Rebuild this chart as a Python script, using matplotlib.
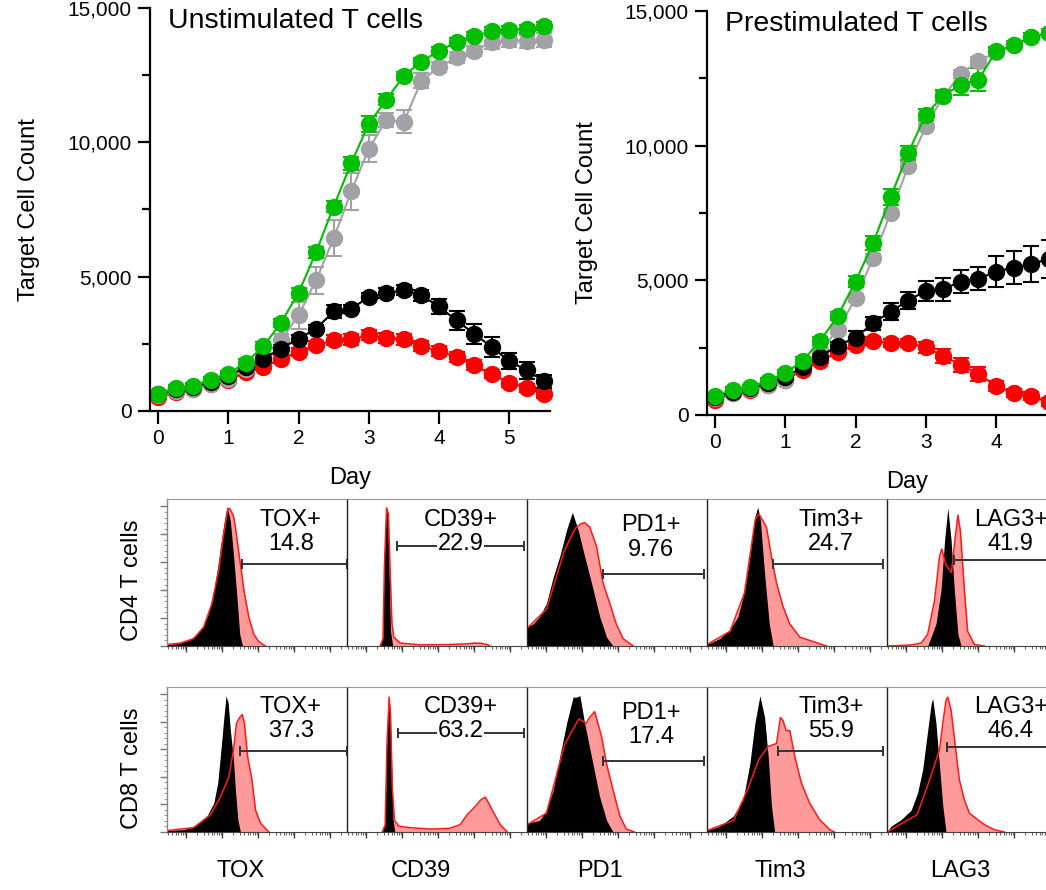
#!/usr/bin/env python3
'''Target cell count curves (top) and exhaustion marker histograms (bottom).
Writes out.png'''
import numpy as np
import matplotlib
matplotlib.use('Agg')
import matplotlib.pyplot as plt

plt.rcParams['font.family'] = ['Liberation Sans', 'DejaVu Sans']

# --- killing curves -------------------------------------------------------
days = [0, 0.25, 0.5, 0.75, 1, 1.25, 1.5, 1.75, 2, 2.25, 2.5, 2.75,
        3, 3.25, 3.5, 3.75, 4, 4.25, 4.5, 4.75, 5, 5.25, 5.5]
ytick_vals = [0, 5000, 10000, 15000]
ytick_labels = ['0', '5,000', '10,000', '15,000']

unstim_green = [645, 855, 930, 1165, 1390, 1800, 2405, 3285, 4390, 5910, 7610, 9220,
                10690, 11590, 12480, 13000, 13410, 13720, 13970, 14130, 14190, 14220, 14340]
unstim_grey = [580, 745, 830, 1015, 1200, 1575, 2070, 2630, 3560, 4860, 6430, 8170,
               9755, 10830, 10770, 12300, 12790, 13160, 13410, 13720, 13810, 13760, 13810]
unstim_black = [620, 805, 890, 1080, 1300, 1635, 1945, 2320, 2690, 3060, 3705, 3805,
                4240, 4390, 4490, 4300, 3890, 3370, 2875, 2380, 1860, 1510, 1100]
unstim_red = [520, 705, 830, 1015, 1140, 1450, 1635, 1945, 2195, 2440, 2630, 2665,
              2815, 2725, 2665, 2415, 2230, 2010, 1700, 1365, 1055, 855, 620]
unstim_green_err = [100, 100, 100, 100, 100, 120, 150, 150, 200, 200, 200, 250,
                    300, 200, 150, 150, 150, 150, 150, 150, 150, 150, 150]
unstim_grey_err = [100, 100, 100, 100, 100, 150, 200, 250, 500, 500, 670, 700,
                   500, 270, 430, 270, 190, 190, 190, 250, 250, 250, 250]
unstim_black_err = [100, 100, 100, 100, 100, 120, 150, 150, 150, 150, 250, 150,
                    150, 190, 190, 190, 270, 360, 370, 380, 310, 310, 250]
unstim_red_err = [100, 100, 100, 100, 100, 120, 120, 150, 150, 150, 190, 190,
                  190, 190, 190, 190, 190, 190, 190, 150, 150, 150, 150]

# prestimulated panel is cut off at the right edge, only days 0-4.75 show
prestim_days = days[:20]
prestim_green = [720, 930, 1030, 1275, 1550, 2020, 2760, 3690, 4955, 6380, 8090, 9725,
                 11150, 11855, 12265, 12450, 13500, 13725, 14020, 14180]
prestim_grey = [620, 830, 955, 1115, 1300, 1795, 2415, 3160, 4335, 5820, 7495, 9230,
                10715, 11830, 12670, 13130, 13475, 13725, 14020, 14180]
prestim_black = [655, 865, 990, 1175, 1400, 1770, 2170, 2575, 2875, 3405, 3840, 4250,
                 4610, 4670, 4955, 5055, 5325, 5475, 5600, 5795]
prestim_red = [555, 805, 930, 1115, 1300, 1670, 2005, 2330, 2600, 2760, 2665, 2665,
               2515, 2190, 1860, 1525, 1080, 805, 705, 470]
prestim_green_err = [100, 100, 100, 100, 120, 120, 150, 150, 200, 270, 310, 250,
                     200, 200, 370, 430, 150, 150, 150, 150]
prestim_grey_err = [100, 100, 100, 100, 100, 120, 150, 150, 150, 150, 150, 150,
                    150, 150, 150, 150, 150, 150, 150, 150]
prestim_black_err = [100, 100, 100, 100, 120, 120, 150, 150, 250, 250, 310, 310,
                     370, 430, 430, 430, 560, 620, 680, 720]
prestim_red_err = [100, 100, 100, 100, 100, 120, 150, 150, 150, 150, 150, 150,
                   200, 250, 250, 250, 200, 150, 150, 150]

GREEN = '#00BE00'
GREY = '#A2A2A6'
BLACK = '#000000'
RED = '#FF0000'

# --- histograms: (log decade, normalised count) -------------------------
markers = ['TOX', 'CD39', 'PD1', 'Tim3', 'LAG3']
cd4_pct = ['14.8', '22.9', '9.76', '24.7', '41.9']
cd8_pct = ['37.3', '63.2', '17.4', '55.9', '46.4']
cd4_gate_start = [1.55, 0.85, 1.57, 1.30, 1.31]
cd8_gate_start = [1.50, 0.88, 1.57, 1.44, 1.13]
gate_end = [4.46, 4.39, 4.37, 4.35, 4.60]

tox_cd4_iso = [(-0.54, 0.01), (-0.26, 0.016), (0.02, 0.034), (0.30, 0.08), (0.48, 0.14),
               (0.62, 0.23), (0.76, 0.38), (0.87, 0.54), (0.96, 0.70), (1.06, 0.86),
               (1.13, 0.95), (1.22, 0.85), (1.31, 0.61), (1.41, 0.31), (1.48, 0.08), (1.56, 0.0)]
tox_cd4_stain = [(-0.54, 0.01), (-0.17, 0.02), (0.2, 0.05), (0.48, 0.13), (0.71, 0.29),
                 (0.90, 0.52), (1.04, 0.77), (1.15, 0.93), (1.20, 0.935), (1.30, 0.89),
                 (1.36, 0.81), (1.43, 0.68), (1.52, 0.52), (1.61, 0.36), (1.73, 0.20),
                 (1.87, 0.08), (2.01, 0.03), (2.19, 0.0)]
cd39_cd4_iso = [(0.38, 0.0), (0.45, 0.05), (0.49, 0.55), (0.54, 0.94), (0.59, 0.9),
                (0.63, 0.5), (0.67, 0.1), (0.73, 0.0)]
cd39_cd4_stain = [(0.38, 0.0), (0.46, 0.05), (0.50, 0.55), (0.56, 0.94), (0.61, 0.9),
                  (0.66, 0.5), (0.71, 0.15), (0.76, 0.06), (0.94, 0.02), (1.5, 0.008),
                  (2.33, 0.01), (2.8, 0.015), (2.98, 0.02), (3.2, 0.018), (3.35, 0.01), (3.44, 0.0)]
pd1_cd4_iso = [(-0.54, 0.13), (-0.37, 0.15), (-0.19, 0.20), (0.0, 0.29), (0.19, 0.47),
               (0.37, 0.61), (0.56, 0.79), (0.72, 0.91), (0.88, 0.79), (1.06, 0.61),
               (1.25, 0.43), (1.48, 0.20), (1.67, 0.06), (1.85, 0.0)]
pd1_cd4_stain = [(-0.54, 0.12), (0.0, 0.25), (0.5, 0.65), (0.8, 0.80), (0.95, 0.83),
                 (1.06, 0.84), (1.2, 0.81), (1.39, 0.68), (1.57, 0.43), (1.76, 0.29),
                 (1.94, 0.15), (2.13, 0.05), (2.41, 0.0)]
tim3_cd4_iso = [(-0.54, 0.01), (-0.19, 0.05), (0.09, 0.11), (0.32, 0.20), (0.51, 0.38),
                (0.65, 0.61), (0.79, 0.88), (0.87, 0.945), (0.94, 0.86), (1.06, 0.49),
                (1.19, 0.15), (1.30, 0.0)]
tim3_cd4_stain = [(-0.54, 0.01), (0.1, 0.1), (0.5, 0.36), (0.8, 0.86), (0.9, 0.9),
                  (0.97, 0.87), (1.11, 0.81), (1.25, 0.61), (1.39, 0.43), (1.57, 0.27),
                  (1.76, 0.15), (2.04, 0.06), (2.41, 0.03), (2.78, 0.0)]
lag3_cd4_iso = [(0.59, 0.0), (0.82, 0.15), (0.96, 0.38), (1.06, 0.72), (1.15, 0.94),
                (1.24, 0.72), (1.33, 0.38), (1.43, 0.08), (1.52, 0.0)]
lag3_cd4_stain = [(-0.54, 0.0), (0.13, 0.007), (0.41, 0.02), (0.59, 0.08), (0.78, 0.31),
                  (0.92, 0.61), (0.98, 0.66), (1.1, 0.55), (1.25, 0.5), (1.35, 0.73),
                  (1.43, 0.89), (1.5, 0.78), (1.61, 0.38), (1.70, 0.10), (1.89, 0.01), (2.17, 0.0)]

tox_cd8_iso = [(-0.54, 0.01), (-0.07, 0.016), (0.30, 0.05), (0.57, 0.11), (0.76, 0.20),
               (0.87, 0.34), (0.96, 0.57), (1.04, 0.79), (1.10, 0.94), (1.16, 0.89),
               (1.22, 0.70), (1.30, 0.52), (1.36, 0.29), (1.43, 0.08), (1.50, 0.0)]
tox_cd8_stain = [(-0.54, 0.01), (0.2, 0.03), (0.67, 0.12), (0.94, 0.24), (1.18, 0.38),
                 (1.31, 0.57), (1.39, 0.75), (1.48, 0.79), (1.55, 0.81), (1.61, 0.75),
                 (1.70, 0.52), (1.82, 0.36), (1.92, 0.15), (2.06, 0.06), (2.29, 0.0)]
cd39_cd8_iso = [(0.44, 0.0), (0.51, 0.05), (0.56, 0.6), (0.62, 0.93), (0.66, 0.85),
                (0.70, 0.45), (0.74, 0.08), (0.79, 0.0)]
cd39_cd8_stain = [(0.44, 0.0), (0.52, 0.05), (0.57, 0.6), (0.63, 0.93), (0.67, 0.8),
                  (0.72, 0.3), (0.78, 0.08), (0.9, 0.04), (1.2, 0.03), (1.8, 0.02),
                  (2.3, 0.025), (2.6, 0.05), (2.8, 0.12), (3.0, 0.17), (3.17, 0.22),
                  (3.3, 0.24), (3.35, 0.22), (3.54, 0.13), (3.72, 0.05), (3.91, 0.0)]
pd1_cd8_iso = [(-0.54, 0.06), (-0.19, 0.08), (0.0, 0.15), (0.19, 0.29), (0.37, 0.52),
               (0.56, 0.75), (0.74, 0.93), (0.83, 0.93), (0.93, 0.94), (1.06, 0.75),
               (1.25, 0.52), (1.48, 0.24), (1.67, 0.08), (1.85, 0.0)]
pd1_cd8_stain = [(-0.54, 0.05), (0.0, 0.13), (0.5, 0.6), (0.9, 0.78), (1.1, 0.75),
                 (1.2, 0.79), (1.34, 0.83), (1.53, 0.66), (1.67, 0.47), (1.85, 0.29),
                 (2.04, 0.11), (2.22, 0.02), (2.45, 0.0)]
tim3_cd8_iso = [(-0.54, 0.01), (-0.19, 0.04), (0.19, 0.11), (0.46, 0.22), (0.65, 0.47),
                (0.79, 0.75), (0.93, 0.94), (1.06, 0.79), (1.16, 0.52), (1.25, 0.18), (1.34, 0.0)]
tim3_cd8_stain = [(-0.54, 0.01), (0.2, 0.08), (0.6, 0.3), (0.9, 0.5), (1.16, 0.59),
                  (1.39, 0.61), (1.5, 0.79), (1.57, 0.77), (1.66, 0.70), (1.76, 0.70),
                  (1.9, 0.52), (2.08, 0.34), (2.31, 0.20), (2.59, 0.085), (2.87, 0.016), (3.0, 0.0)]
lag3_cd8_iso = [(-0.54, 0.0), (-0.43, 0.04), (-0.15, 0.085), (0.13, 0.15), (0.31, 0.27),
                (0.45, 0.43), (0.59, 0.70), (0.69, 0.89), (0.73, 0.92), (0.82, 0.75),
                (0.92, 0.45), (1.01, 0.18), (1.10, 0.0)]
lag3_cd8_stain = [(-0.54, 0.0), (0.3, 0.12), (0.7, 0.4), (0.92, 0.57), (1.01, 0.75),
                  (1.10, 0.91), (1.15, 0.93), (1.24, 0.84), (1.35, 0.61), (1.47, 0.36),
                  (1.61, 0.22), (1.75, 0.13), (1.98, 0.085), (2.17, 0.05), (2.44, 0.016), (2.72, 0.0)]

cd4_iso = [tox_cd4_iso, cd39_cd4_iso, pd1_cd4_iso, tim3_cd4_iso, lag3_cd4_iso]
cd4_stain = [tox_cd4_stain, cd39_cd4_stain, pd1_cd4_stain, tim3_cd4_stain, lag3_cd4_stain]
cd8_iso = [tox_cd8_iso, cd39_cd8_iso, pd1_cd8_iso, tim3_cd8_iso, lag3_cd8_iso]
cd8_stain = [tox_cd8_stain, cd39_cd8_stain, pd1_cd8_stain, tim3_cd8_stain, lag3_cd8_stain]

W, H = 1046, 890
fig = plt.figure(figsize=(W / 100, H / 100), dpi=100)


def px_axes(x0, y0, x1, y1):
    # pixel box (top-left origin) -> figure axes
    return fig.add_axes([x0 / W, 1 - y1 / H, (x1 - x0) / W, (y1 - y0) / H])


def curve_panel(ax, x, series, title, ylabel_x, xticks):
    for y, err, col in series:
        ax.errorbar(x, y, yerr=err, color=col, marker='o', markersize=11.5,
                    lw=1.5, elinewidth=1.5, capsize=6, capthick=1.5, clip_on=False)
    ax.set_xlim(-0.114, 5.58)
    ax.set_ylim(0, 15000)
    ax.set_xticks(xticks)
    ax.set_yticks(ytick_vals)
    ax.set_yticklabels(ytick_labels)
    ax.set_yticks([2500, 7500, 12500], minor=True)
    for s in ['top', 'right']:
        ax.spines[s].set_visible(False)
    for s in ['left', 'bottom']:
        ax.spines[s].set_linewidth(1.6)
    ax.tick_params(which='major', length=9, width=1.6, labelsize=15, pad=4)
    ax.tick_params(axis='y', which='minor', length=6, width=1.6)
    ax.set_xlabel('Day', fontsize=17, labelpad=14)
    ax.set_ylabel('Target Cell Count', fontsize=17)
    ax.yaxis.set_label_coords(ylabel_x, 0.5)
    ax.text(0.045, 1.0, title, transform=ax.transAxes, fontsize=20.5, va='top', ha='left')


ax1 = px_axes(150, 8, 550, 411)
curve_panel(ax1, days,
            [(unstim_red, unstim_red_err, RED), (unstim_grey, unstim_grey_err, GREY),
             (unstim_black, unstim_black_err, BLACK), (unstim_green, unstim_green_err, GREEN)],
            'Unstimulated T cells', -0.275, [0, 1, 2, 3, 4, 5])

ax2 = px_axes(707, 11, 1107, 415)
curve_panel(ax2, prestim_days,
            [(prestim_red, prestim_red_err, RED), (prestim_grey, prestim_grey_err, GREY),
             (prestim_black, prestim_black_err, BLACK), (prestim_green, prestim_green_err, GREEN)],
            'Prestimulated T cells', -0.2725, [0, 1, 2, 3, 4])

# --- histogram grid ------------------------------------------------------
col_left = [167, 347, 527, 707, 887]
rows = [(499, 646, cd4_iso, cd4_stain, cd4_pct, cd4_gate_start),
        (687, 832, cd8_iso, cd8_stain, cd8_pct, cd8_gate_start)]
minor_x = [d + np.log10(k) for d in range(-1, 5) for k in range(2, 10)]
minor_x = [m for m in minor_x if -0.54 < m < 4.46]

for r, (top, bot, iso, stain, pct, gstart) in enumerate(rows):
    for c, name in enumerate(markers):
        ax = px_axes(col_left[c], top, col_left[c] + 180, bot)
        sx, sy = zip(*stain[c])
        ax.fill_between(sx, sy, color='#FF9A9A', lw=0)
        ax.plot(sx, sy, color='#FF1A1A', lw=1.1)
        bx, by = zip(*iso[c])
        ax.fill_between(bx, by, color='black', lw=0)
        ax.set_xlim(-0.54, 4.46)
        ax.set_ylim(0, 1.0)

        gy = 0.56
        if name == 'CD39':
            gy = 0.68
        elif name == 'PD1':
            gy = 0.49
        elif name == 'LAG3':
            gy = 0.585
        ax.plot([gstart[c], gate_end[c]], [gy, gy], color='#333333', lw=1.4,
                marker='|', markersize=7, markeredgewidth=1.4, clip_on=True)
        tx = 2.9 if name != 'CD39' else 2.61
        ty = 0.82 if name == 'PD1' else 0.86
        ax.text(tx, ty, name + '+', fontsize=17, ha='center', va='center')
        ax.text(tx, ty - 0.165, pct[c], fontsize=17, ha='center', va='center',
                bbox=dict(fc='white', ec='none', pad=0.5))

        ax.spines['right'].set_visible(False)
        ax.spines['top'].set_color('#9A9A9A')
        ax.spines['bottom'].set_color('#444444')
        ax.spines['left'].set_color('#888888' if c == 0 else '#222222')
        ax.spines['left'].set_linewidth(1.0)
        ax.set_xticks([0, 1, 2, 3, 4])
        ax.set_xticks(minor_x, minor=True)
        ax.tick_params(axis='x', which='major', length=4, width=1, color='#444444',
                       labelbottom=False)
        ax.tick_params(axis='x', which='minor', length=2, width=0.8, color='#666666')
        if c == 0:
            ax.set_yticks([0, 0.19, 0.38, 0.57, 0.76, 0.95])
            ax.set_yticks(np.arange(0, 0.96, 0.038), minor=True)
            ax.tick_params(axis='y', which='major', length=5, width=1, color='#777777',
                           labelleft=False)
            ax.tick_params(axis='y', which='minor', length=2.5, width=0.8, color='#999999')
        else:
            ax.set_yticks([])
        if r == 1:
            ax.text(1.5, -0.27, name, transform=ax.get_xaxis_transform(),
                    fontsize=17, ha='center', va='center')

fig.text(132 / W, 1 - 580 / H, 'CD4 T cells', rotation=90, fontsize=17,
         ha='center', va='center')
fig.text(132 / W, 1 - 768 / H, 'CD8 T cells', rotation=90, fontsize=17,
         ha='center', va='center')

fig.savefig('out.png', dpi=100)
